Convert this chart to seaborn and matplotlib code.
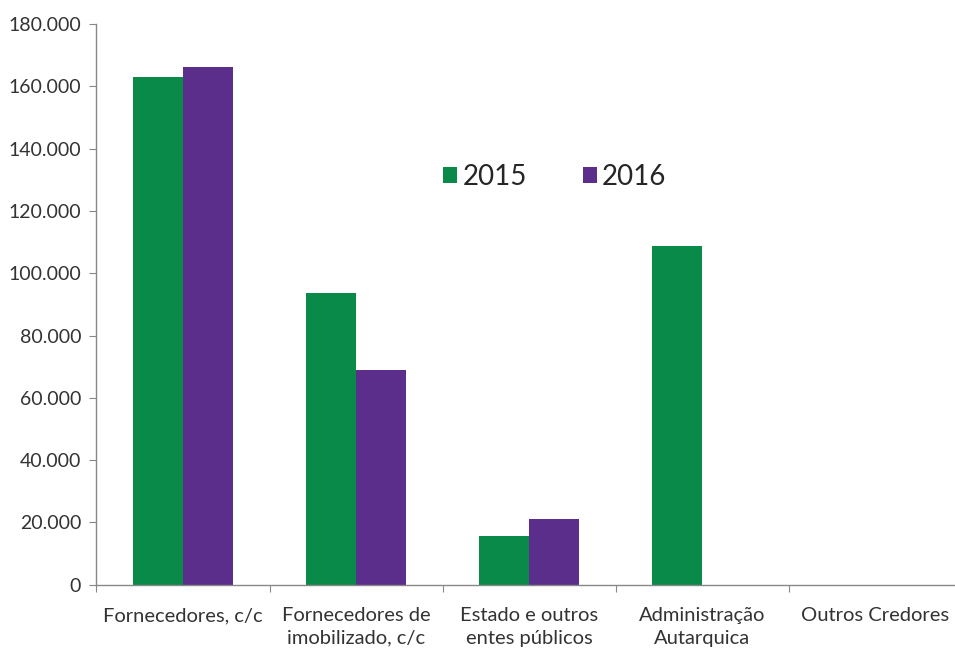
import matplotlib
matplotlib.use("Agg")
import matplotlib.pyplot as plt
import matplotlib.ticker as mticker
import numpy as np
import pandas as pd
import seaborn as sns

categorias = ["Fornecedores, c/c", "Fornecedores de\nimobilizado, c/c",
              "Estado e outros\nentes públicos", "Administração\nAutarquica",
              "Outros Credores"]
valores_2015 = [163000, 93500, 15500, 108800, 0]
valores_2016 = [166300, 69000, 21200, 0, 0]
anos = ["2015", "2016"]

df = pd.DataFrame({
    "categoria": categorias * 2,
    "ano": [anos[0]] * 5 + [anos[1]] * 5,
    "valor": valores_2015 + valores_2016,
})

sns.set_theme(style="white")
plt.rcParams["font.family"] = ["Lato", "DejaVu Sans"]

fig, ax = plt.subplots(figsize=(9.55, 6.49), dpi=100)
fig.subplots_adjust(left=0.101, right=1.007, top=0.963, bottom=0.099)

sns.barplot(data=df, x="categoria", y="valor", hue="ano",
            palette=["#0a8a48", "#5b2e8b"], width=0.58, saturation=1,
            linewidth=0, ax=ax)

ax.set_ylim(0, 180000)
ax.set_xlim(-0.5, 4.5)
ax.yaxis.set_major_locator(mticker.MultipleLocator(20000))
ax.yaxis.set_major_formatter(mticker.FuncFormatter(
    lambda v, p: "0" if v == 0 else f"{int(v):,}".replace(",", ".")))
ax.set_xlabel("")
ax.set_ylabel("")
ax.tick_params(axis="y", labelsize=14, colors="#333333", length=5,
               left=True, width=0.8, pad=6)
ax.tick_params(axis="y", color="#888888")
ax.tick_params(axis="x", which="major", labelsize=14.5, length=0, pad=16,
               colors="#333333")
for lbl in ax.get_xticklabels():
    lbl.set_linespacing(1.4)
ax.set_xticks(np.arange(-0.5, 5.0, 1.0), minor=True)
ax.tick_params(axis="x", which="minor", length=5, bottom=True, width=0.8,
               color="#888888")

for s in ["top", "right"]:
    ax.spines[s].set_visible(False)
for s in ["left", "bottom"]:
    ax.spines[s].set_color("#888888")
    ax.spines[s].set_linewidth(1)

leg = ax.legend(loc="upper left", bbox_to_anchor=(0.372, 0.795), ncol=2,
                frameon=False, fontsize=20, handlelength=0.5,
                handleheight=0.5, columnspacing=2.0, handletextpad=0.2,
                title=None)

plt.savefig("out.png", dpi=100)
